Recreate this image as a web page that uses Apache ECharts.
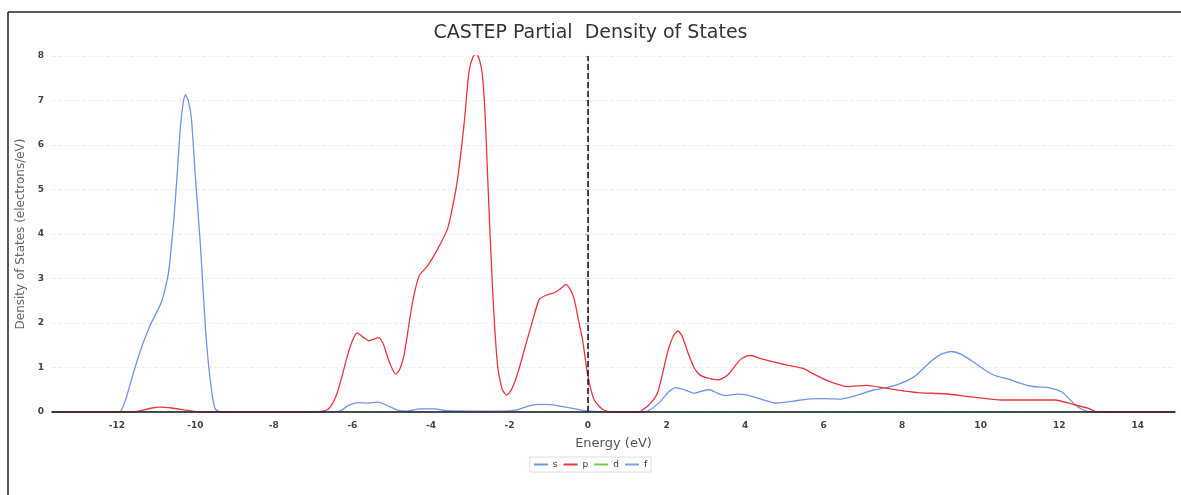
<!DOCTYPE html>
<html>
<head>
<meta charset="utf-8">
<script src="https://cdn.jsdelivr.net/npm/echarts@6/dist/echarts.min.js"></script>
<style>html,body{margin:0;padding:0;background:#fff}#c{width:1181px;height:495px}</style>
</head>
<body>
<div id="c"></div>
<script>
const xTicks = [-12,-10,-8,-6,-4,-2,0,2,4,6,8,10,12,14];
const yTicks = [0,1,2,3,4,5,6,7,8];

const sEnergy = [-13.65,-12.1,-11.9,-11.75,-11.57,-11.35,-11.15,-10.95,-10.85,-10.68,-10.55,-10.47,-10.38,-10.3,-10.25,-10.18,-10.1,-10.0,-9.87,-9.74,-9.62,-9.5,-9.35,-6.5,-6.3,-6.1,-5.85,-5.6,-5.35,-5.1,-4.85,-4.6,-4.3,-3.9,-3.6,-2.2,-1.8,-1.5,-1.2,-0.9,-0.5,-0.2,0,1.4,1.55,1.86,2.05,2.24,2.45,2.71,2.9,3.09,3.3,3.5,3.8,4.0,4.33,4.8,5.2,5.6,6.0,6.45,6.71,7.0,7.3,7.6,7.9,8.32,8.75,9.0,9.26,9.5,9.77,10.1,10.36,10.71,11.0,11.22,11.5,11.73,12.07,12.25,12.41,12.6,12.8,14.95];
const sDos = [0,0,0.02,0.35,0.9,1.5,1.95,2.3,2.5,3.15,4.3,5.25,6.4,7.0,7.13,7.0,6.6,5.3,3.75,1.85,0.72,0.08,0,0,0.03,0.15,0.21,0.2,0.22,0.14,0.04,0.02,0.07,0.07,0.03,0.02,0.05,0.14,0.17,0.16,0.1,0.05,0.02,0,0.03,0.25,0.45,0.55,0.5,0.42,0.47,0.5,0.42,0.37,0.4,0.39,0.31,0.2,0.24,0.29,0.3,0.29,0.34,0.42,0.5,0.55,0.62,0.8,1.15,1.3,1.36,1.3,1.15,0.95,0.82,0.74,0.65,0.59,0.56,0.55,0.45,0.3,0.16,0.05,0,0];

const pEnergy = [-13.65,-11.6,-11.4,-11.1,-10.9,-10.6,-10.3,-10.0,-9.8,-6.9,-6.64,-6.5,-6.39,-6.25,-6.13,-6.0,-5.88,-5.75,-5.58,-5.45,-5.32,-5.2,-5.11,-5.0,-4.9,-4.8,-4.69,-4.58,-4.47,-4.3,-4.09,-3.83,-3.58,-3.45,-3.32,-3.15,-3.03,-2.92,-2.84,-2.76,-2.69,-2.62,-2.56,-2.43,-2.3,-2.18,-2.07,-1.95,-1.79,-1.62,-1.45,-1.24,-1.05,-0.86,-0.7,-0.56,-0.45,-0.35,-0.25,-0.14,0,0.16,0.37,0.6,1.3,1.44,1.6,1.78,2.03,2.18,2.29,2.4,2.54,2.7,2.84,3.05,3.31,3.56,3.86,4.05,4.16,4.4,4.75,5.1,5.48,5.69,6.11,6.62,7.09,7.56,8.07,8.49,9.09,9.77,10.54,11.9,12.32,12.75,12.9,13.1,14.95];
const pDos = [0,0,0.03,0.09,0.11,0.09,0.05,0.01,0,0,0.05,0.2,0.42,0.85,1.25,1.6,1.78,1.7,1.6,1.64,1.67,1.5,1.25,1.0,0.85,0.95,1.25,1.85,2.46,3.06,3.28,3.66,4.11,4.6,5.24,6.52,7.65,8.0,8.04,7.9,7.58,6.7,5.39,2.76,1.02,0.5,0.38,0.5,0.87,1.4,1.93,2.53,2.63,2.68,2.77,2.87,2.75,2.53,2.1,1.63,0.8,0.27,0.06,0,0,0.08,0.2,0.45,1.35,1.72,1.82,1.7,1.35,1.0,0.84,0.76,0.72,0.83,1.16,1.26,1.27,1.2,1.12,1.05,0.98,0.88,0.7,0.57,0.6,0.54,0.47,0.43,0.41,0.34,0.27,0.27,0.18,0.08,0.02,0,0];

const dEnergy = [-13.65,14.95];
const dDos = [0,0];
const fEnergy = [-13.65,14.95];
const fDos = [0,0];

const zip = (a,b) => a.map((x,i)=>[x,b[i]]);

const chart = echarts.init(document.getElementById('c'));
chart.setOption({
  backgroundColor:'#fff',
  animation:false,
  title:{text:'CASTEP Partial  Density of States',left:'center',top:19,
    textStyle:{fontSize:19,fontWeight:'normal',color:'#333',fontFamily:'DejaVu Sans'}},
  legend:{data:['s','p','d','f'],left:'center',top:457,itemWidth:14,itemHeight:2,itemGap:6,
    icon:'rect',borderColor:'#ddd',borderWidth:1,padding:[3,4],
    textStyle:{fontSize:9,color:'#333',fontFamily:'DejaVu Sans'}},
  grid:{left:52,right:6,top:56,bottom:83},
  graphic:[
    {type:'line',shape:{x1:8,y1:12,x2:1181,y2:12},style:{stroke:'#222',lineWidth:1.5}},
    {type:'line',shape:{x1:8,y1:12,x2:8,y2:495},style:{stroke:'#222',lineWidth:1.5}}
  ],
  xAxis:{type:'value',min:-13.65,max:14.95,zlevel:1,
    name:'Energy (eV)',nameLocation:'middle',nameGap:25,
    nameTextStyle:{fontSize:13,color:'#555',fontFamily:'DejaVu Sans'},
    axisLine:{lineStyle:{color:'#222',width:1.5}},
    axisTick:{show:false},
    axisLabel:{customValues:xTicks,fontSize:9,fontWeight:'bold',color:'#444',margin:9,fontFamily:'DejaVu Sans'},
    splitLine:{show:false}},
  yAxis:{type:'value',min:0,max:8,interval:1,
    name:'Density of States (electrons/eV)',nameLocation:'middle',nameGap:24,
    nameTextStyle:{fontSize:12,color:'#666',fontFamily:'DejaVu Sans'},
    axisLine:{show:true,lineStyle:{color:'#ccc'}},
    axisTick:{show:true,length:3,lineStyle:{color:'#bbb'}},
    axisLabel:{customValues:yTicks,fontSize:9,fontWeight:'bold',color:'#444',margin:8,fontFamily:'DejaVu Sans'},
    splitLine:{show:true,lineStyle:{color:'#eee',type:'dashed'}}},
  series:[
    {name:'s',type:'line',data:zip(sEnergy,sDos),smooth:0.2,showSymbol:false,
      lineStyle:{color:'#6f93e8',width:1.3},itemStyle:{color:'#6f93e8'},
      markLine:{silent:true,symbol:'none',label:{show:false},
        lineStyle:{color:'#111',type:'dashed',width:1.5},data:[{xAxis:0}]}},
    {name:'p',type:'line',data:zip(pEnergy,pDos),smooth:0.2,showSymbol:false,
      lineStyle:{color:'#e8353f',width:1.3},itemStyle:{color:'#e8353f'}},
    {name:'d',type:'line',data:zip(dEnergy,dDos),showSymbol:false,z:1,
      lineStyle:{color:'#6fcf4a',width:1.2},itemStyle:{color:'#6fcf4a'}},
    {name:'f',type:'line',data:zip(fEnergy,fDos),showSymbol:false,z:1,
      lineStyle:{color:'#7fa0ea',width:1.2},itemStyle:{color:'#7fa0ea'}}
  ]
});
</script>
</body>
</html>
